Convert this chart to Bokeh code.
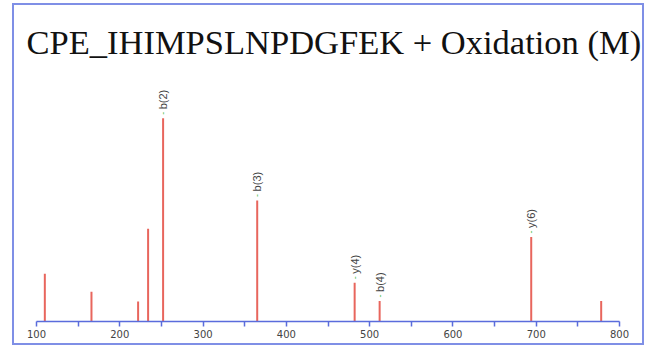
import math
from bokeh.plotting import figure
from bokeh.models import FixedTicker, ColumnDataSource
from bokeh.embed import file_html
from bokeh.resources import INLINE

# ---- data ----
title_text = "CPE_IHIMPSLNPDGFEK + Oxidation (M)"
mz = [110, 166, 222, 234, 252, 365, 482, 512, 694, 778]
intensity = [23.5, 14.7, 9.8, 45.7, 100, 59.6, 19.1, 10.1, 41.6, 10.1]
ion_labels = ["", "", "", "", "b(2)", "b(3)", "y(4)", "b(4)", "y(6)", ""]
tick_values = [100, 200, 300, 400, 500, 600, 700, 800]
minor_tick_values = [150, 250, 350, 450, 550, 650, 750]

BLUE = "#5a6cdc"
FRAME_BLUE = "#7f8fe6"
RED = "#e8665d"
GREEN = "#45bb45"

p = figure(
    output_backend="svg", toolbar_location=None,
    frame_width=583, frame_height=255,
    min_border_left=22, min_border_right=23, min_border_top=61, min_border_bottom=22,
    x_range=(100, 800), y_range=(0, 125.5),
    title=title_text,
    styles={"position": "absolute", "left": "12px", "top": "3px",
            "border": "2px solid " + FRAME_BLUE},
)
p.background_fill_color = "white"
p.border_fill_color = "white"
p.outline_line_color = None
p.grid.visible = False
p.yaxis.visible = False

p.title.text_font = "Liberation Serif"
p.title.text_font_size = "34.5px"
p.title.text_font_style = "normal"
p.title.text_color = "#111111"
p.title.align = "left"
p.title.offset = -10
p.title.standoff = 12

ax = p.xaxis[0]
ax.ticker = FixedTicker(ticks=tick_values, minor_ticks=minor_tick_values)
ax.axis_line_color = BLUE
ax.axis_line_width = 1.5
ax.major_tick_line_color = BLUE
ax.minor_tick_line_color = BLUE
ax.major_tick_line_width = 1.5
ax.minor_tick_line_width = 1.5
ax.major_tick_in = 0
ax.major_tick_out = 5
ax.minor_tick_in = 0
ax.minor_tick_out = 5
ax.major_label_text_font = "DejaVu Sans"
ax.major_label_text_font_size = "10px"
ax.major_label_text_color = "#444444"
ax.major_label_standoff = 3

src = ColumnDataSource(dict(mz=mz, inten=intensity, zero=[0] * len(mz)))
p.segment(x0="mz", y0="zero", x1="mz", y1="inten", source=src,
          line_color=RED, line_width=2)

lab_mz = [m for m, l in zip(mz, ion_labels) if l]
lab_int = [v for v, l in zip(intensity, ion_labels) if l]
lab_txt = [l for l in ion_labels if l]
lsrc = ColumnDataSource(dict(x=lab_mz, y=lab_int, t=lab_txt, d=["-"] * len(lab_txt)))
p.text(x="x", y="y", text="d", source=lsrc, angle=math.pi / 2,
       text_align="center", text_baseline="middle", y_offset=-5,
       text_color=GREEN, text_font_size="9px")
p.text(x="x", y="y", text="t", source=lsrc, angle=math.pi / 2,
       text_align="left", text_baseline="middle", y_offset=-9,
       text_color="#444444", text_font_size="11px")

open("out.html", "w").write(file_html(p, INLINE))
